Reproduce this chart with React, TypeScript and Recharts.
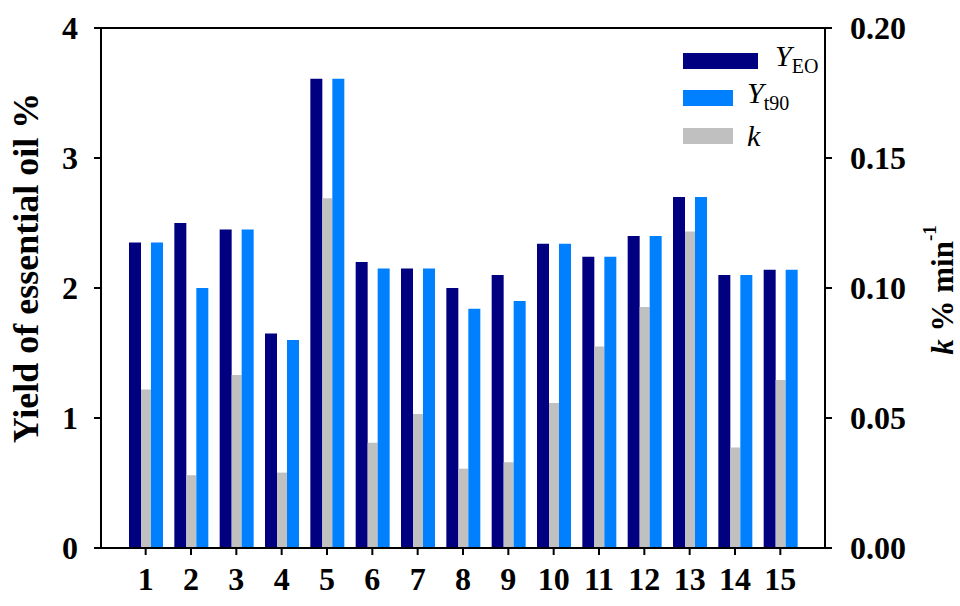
import React from "react";
import {
  BarChart,
  Bar,
  XAxis,
  YAxis,
  ReferenceLine,
  Legend,
} from "recharts";

const runs = ["1", "2", "3", "4", "5", "6", "7", "8", "9", "10", "11", "12", "13", "14", "15"];
const yieldEO = [2.35, 2.5, 2.45, 1.65, 3.61, 2.2, 2.15, 2.0, 2.1, 2.34, 2.24, 2.4, 2.7, 2.1, 2.14];
const yieldT90 = [2.35, 2.0, 2.45, 1.6, 3.61, 2.15, 2.15, 1.84, 1.9, 2.34, 2.24, 2.4, 2.7, 2.1, 2.14];
const rateK = [0.061, 0.028, 0.0665, 0.029, 0.1345, 0.0405, 0.0515, 0.0305, 0.033, 0.0558, 0.0775, 0.0927, 0.1217, 0.0387, 0.0646];
const leftTicks = [0, 1, 2, 3, 4];
const rightTicks = [0, 0.05, 0.1, 0.15, 0.2];

const data = runs.map((run, i) => ({
  run,
  yeo: yieldEO[i],
  yt90: yieldT90[i],
  k: rateK[i],
}));

const FONT = '"Liberation Serif", "Times New Roman", serif';
const NAVY = "#000080";
const BLUE = "#0080FF";
const GREY = "#C0C0C0";

const tickStyle = { fontFamily: FONT, fontWeight: 700, fontSize: 32, fill: "#000" };

function LegendBox() {
  const row = (color: string, w: number, gap: number, label: React.ReactNode) => (
    <div style={{ display: "flex", alignItems: "center", height: 37.5 }}>
      <div style={{ width: w, height: 16, background: color, marginRight: gap }} />
      <div style={{ fontFamily: FONT, fontSize: 30, color: "#000", lineHeight: "30px" }}>{label}</div>
    </div>
  );
  return (
    <div>
      {row(NAVY, 75, 17, <span><i>Y</i><sub style={{ fontSize: 20 }}>EO</sub></span>)}
      {row(BLUE, 50, 14, <span><i>Y</i><sub style={{ fontSize: 20 }}>t90</sub></span>)}
      {row(GREY, 50, 14, <span><i>k</i></span>)}
    </div>
  );
}

export default function App() {
  return (
    <div style={{ position: "absolute", left: 0, top: 0, background: "#fff" }}>
      <BarChart
        width={960}
        height={606}
        data={data}
        margin={{ top: 28, right: 0, bottom: 0, left: 0 }}
        barGap={0}
      >
        <XAxis
          dataKey="run"
          xAxisId="x"
          height={58}
          padding={{ left: 22, right: 22 }}
          tickLine={{ stroke: "#000", strokeWidth: 2 }}
          axisLine={{ stroke: "#000", strokeWidth: 2 }}
          tickSize={7}
          tickMargin={12}
          tick={tickStyle}
          interval={0}
        />
        <YAxis
          yAxisId="left"
          width={101}
          domain={[0, 4]}
          ticks={leftTicks}
          tickSize={7}
          tickMargin={16}
          tick={tickStyle}
          tickLine={{ stroke: "#000", strokeWidth: 2 }}
          axisLine={{ stroke: "#000", strokeWidth: 2 }}
          label={{
            content: ({ viewBox }: any) => {
              const cx = viewBox.x + 26;
              const cy = viewBox.y + viewBox.height / 2 - 20;
              return (
                <text
                  x={cx}
                  y={cy}
                  transform={`rotate(-90 ${cx} ${cy})`}
                  textAnchor="middle"
                  dominantBaseline="central"
                  style={{ fontFamily: FONT, fontWeight: 700, fontSize: 36 }}
                  fill="#000"
                >
                  Yield of essential oil %
                </text>
              );
            },
          }}
        />
        <YAxis
          yAxisId="right"
          orientation="right"
          width={135}
          domain={[0, 0.2]}
          ticks={rightTicks}
          tickFormatter={(v: number) => v.toFixed(2)}
          tickSize={7}
          tickMargin={18}
          tick={tickStyle}
          tickLine={{ stroke: "#000", strokeWidth: 2 }}
          axisLine={{ stroke: "#000", strokeWidth: 2 }}
          label={{
            content: ({ viewBox }: any) => {
              const cx = viewBox.x + 117;
              const cy = viewBox.y + viewBox.height / 2 + 2;
              return (
                <text
                  x={cx}
                  y={cy}
                  transform={`rotate(-90 ${cx} ${cy})`}
                  textAnchor="middle"
                  dominantBaseline="central"
                  style={{ fontFamily: FONT, fontWeight: 700, fontSize: 31 }}
                  fill="#000"
                >
                  <tspan fontStyle="italic">k</tspan>
                  <tspan> % min</tspan>
                  <tspan dy={-13} fontSize={19}>-1</tspan>
                </text>
              );
            },
          }}
        />
        <ReferenceLine yAxisId="left" xAxisId="x" y={4} stroke="#000" strokeWidth={2} />
        <Legend
          layout="horizontal"
          verticalAlign="middle"
          align="center"
          content={() => <LegendBox />}
          wrapperStyle={{ position: "absolute", left: 683, top: 42, width: 160 }}
        />
        <Bar xAxisId="x" yAxisId="left" dataKey="yeo" name="YEO" fill={NAVY} barSize={12} isAnimationActive={false} />
        <Bar xAxisId="x" yAxisId="right" dataKey="k" name="k" fill={GREY} barSize={10} isAnimationActive={false} />
        <Bar xAxisId="x" yAxisId="left" dataKey="yt90" name="Yt90" fill={BLUE} barSize={12} isAnimationActive={false} />
      </BarChart>
    </div>
  );
}
